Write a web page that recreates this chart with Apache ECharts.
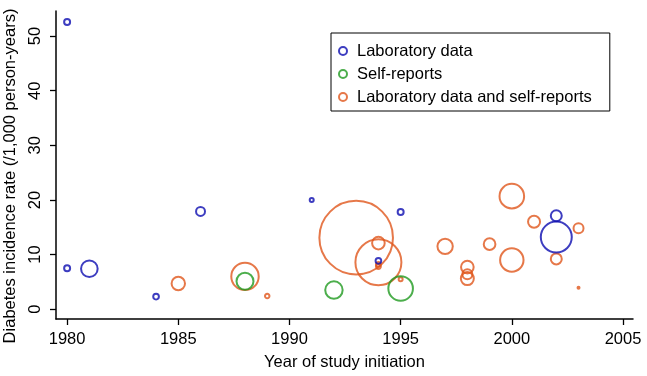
<!DOCTYPE html>
<html>
<head>
<meta charset="utf-8">
<script src="https://cdn.jsdelivr.net/npm/echarts@6/dist/echarts.min.js"></script>
<style>
  html, body { margin: 0; padding: 0; background: #fff; }
  #chart { width: 647px; height: 376px; }
</style>
</head>
<body>
<div id="chart"></div>
<script>
// study year, incidence rate (/1,000 person-years), relative study weight
var lab_years  = [1980, 1980, 1981, 1984, 1986, 1991, 1995, 1994, 2002, 2002];
var lab_rates  = [52.6, 7.5, 7.4, 2.3, 17.9, 20.0, 17.8, 8.85, 17.1, 13.2];
var lab_weight = [9, 9, 69, 8, 20, 4, 9, 8, 30, 240];

var self_years  = [1988, 1992, 1995];
var self_rates  = [5.1, 3.5, 3.8];
var self_weight = [72, 76, 151];

var both_years  = [1985, 1988, 1989, 1993, 1994, 1994, 1994, 1994, 1995, 1997, 1998, 1998, 1998, 1999, 2000, 2000, 2001, 2002, 2003, 2003];
var both_rates  = [4.7, 6.0, 2.4, 13.1, 8.6, 12.1, 8.2, 7.8, 5.5, 11.5, 7.7, 6.4, 5.6, 11.9, 20.7, 9.0, 16.0, 9.2, 14.8, 3.9];
var both_weight = [45, 188, 5, 1354, 529, 40, 6, 6, 4, 59, 40, 25, 42, 34, 151, 137, 36, 30, 25, 1];

var x_ticks = [1980, 1985, 1990, 1995, 2000, 2005];
var y_ticks = [0, 10, 20, 30, 40, 50];

var series_names = ['Laboratory data', 'Self-reports', 'Laboratory data and self-reports'];
var series_colors = ['#0d0db0', '#1f9a1f', '#e0561c'];

function make_points(years, rates, weight){
  var pts = Array()
  years.forEach(function(y, i){
    pts.push([y, rates[i], weight[i]])
  })
  return pts
}

var chart_div = echarts.init(document.getElementById('chart'));
var font = 'Liberation Sans, Arial, sans-serif';
var fsize = 16.5;

function scatter(name, color, data){
  return {
    name: name,
    type: 'scatter',
    data: data,
    symbol: 'circle',
    symbolSize: function(v){ return 2 * Math.sqrt(v[2]); },
    itemStyle: { color: 'rgba(0,0,0,0)', borderColor: color, borderWidth: 2 },
    emphasis: { disabled: true },
    silent: true
  }
}

var option = {
  animation: false,
  textStyle: { fontFamily: font },
  grid: { left: 56, right: 14, top: 11, bottom: 57, containLabel: false, outerBoundsMode: 'none' },
  legend: {
    orient: 'vertical',
    left: 331,
    top: 33,
    padding: [9, 18, 5, 7],
    itemGap: 5,
    itemWidth: 8,
    itemHeight: 8,
    icon: 'circle',
    borderColor: '#000',
    borderWidth: 1,
    textStyle: { fontSize: fsize, color: '#000', fontFamily: font, lineHeight: 18, padding: [0, 0, 0, 5] },
    data: series_names
  },
  xAxis: {
    type: 'value',
    min: 1979.5,
    max: 2005.45,
    name: 'Year of study initiation',
    nameLocation: 'middle',
    nameGap: 35,
    nameTextStyle: { fontSize: fsize, color: '#000', fontFamily: font },
    axisLine: { onZero: false, lineStyle: { color: '#000', width: 1.5 } },
    axisTick: { length: 6, lineStyle: { color: '#000', width: 1.3 }, customValues: x_ticks },
    axisLabel: { fontSize: fsize, color: '#000', margin: 12, customValues: x_ticks,
      formatter: function(v){ return String(v); } },
    splitLine: { show: false }
  },
  yAxis: {
    type: 'value',
    min: -1.8,
    max: 54.6,
    name: 'Diabetes incidence rate (/1,000 person-years)',
    nameLocation: 'middle',
    nameRotate: 90,
    nameGap: 35,
    nameTextStyle: { fontSize: fsize, color: '#000', fontFamily: font, padding: [0, 22, 0, 0] },
    axisLine: { onZero: false, lineStyle: { color: '#000', width: 1.5 } },
    axisTick: { length: 6, lineStyle: { color: '#000', width: 1.3 }, customValues: y_ticks },
    axisLabel: { fontSize: fsize, color: '#000', margin: 12, rotate: 90, customValues: y_ticks },
    splitLine: { show: false }
  },
  series: [
    scatter(series_names[2], series_colors[2], make_points(both_years, both_rates, both_weight)),
    scatter(series_names[1], series_colors[1], make_points(self_years, self_rates, self_weight)),
    scatter(series_names[0], series_colors[0], make_points(lab_years, lab_rates, lab_weight))
  ]
};

chart_div.setOption(option, true);
</script>
</body>
</html>
